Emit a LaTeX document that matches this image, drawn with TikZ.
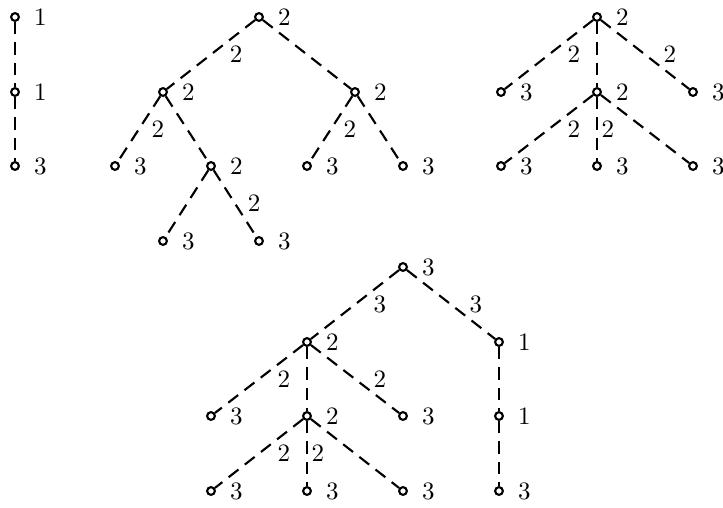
\documentclass[tikz,border=0pt]{standalone}
\begin{document}
\begin{tikzpicture}[x=0.4pt,y=-0.4pt,
  vtx/.style={circle,draw,line width=0.85pt,fill=white,inner sep=0pt,minimum size=3.1pt},
  vl/.style={inner sep=0pt,font=\normalsize},
  edge/.style={line width=0.85pt,dash pattern=on 5pt off 3.2pt},
  el/.style={inner sep=0pt,anchor=center},
  elS/.style={el,xshift=10pt},
  elT/.style={el,xshift=7.6pt},
  elV/.style={el,xshift=4.4pt},
  every label/.style={vl},
  label distance=5.5pt]
\useasboundingbox (0,0) rectangle (723,508);
% Tree A
\node[vtx,label=0:1] (a1) at (15,17) {};
\node[vtx,label=0:1] (a2) at (15,92) {};
\node[vtx,label=0:3] (a3) at (15,166) {};
\draw[edge] (a1) -- (a2);
\draw[edge] (a2) -- (a3);
% Tree B
\node[vtx,label=0:2] (b) at (259,17) {};
\node[vtx,label=0:2] (bl) at (163,92) {};
\node[vtx,label=0:2] (br) at (355,92) {};
\node[vtx,label=0:3] (bll) at (115,166) {};
\node[vtx,label=0:2] (blr) at (211,166) {};
\node[vtx,label=0:3] (brl) at (307,166) {};
\node[vtx,label=0:3] (brr) at (403,166) {};
\node[vtx,label=0:3] (blrl) at (163,241) {};
\node[vtx,label=0:3] (blrr) at (259,241) {};
\draw[edge] (b) -- (bl) node[midway,elS]{2};
\draw[edge] (b) -- (br);
\draw[edge] (bl) -- (bll) node[midway,elT]{2};
\draw[edge] (bl) -- (blr);
\draw[edge] (br) -- (brl) node[midway,elT]{2};
\draw[edge] (br) -- (brr);
\draw[edge] (blr) -- (blrl);
\draw[edge] (blr) -- (blrr) node[midway,elT]{2};
% Tree C
\node[vtx,label=0:2] (c) at (597,17) {};
\node[vtx,label=0:3] (cl) at (501,92) {};
\node[vtx,label=0:2] (cm) at (597,92) {};
\node[vtx,label=0:3] (cr) at (693,92) {};
\node[vtx,label=0:3] (cml) at (501,166) {};
\node[vtx,label=0:3] (cmm) at (597,166) {};
\node[vtx,label=0:3] (cmr) at (693,166) {};
\draw[edge] (c) -- (cl) node[midway,elS]{2};
\draw[edge] (c) -- (cm);
\draw[edge] (c) -- (cr) node[midway,elS]{2};
\draw[edge] (cm) -- (cml) node[midway,elS]{2};
\draw[edge] (cm) -- (cmm) node[midway,elV]{2};
\draw[edge] (cm) -- (cmr);
% Tree D
\node[vtx,label=0:3] (d) at (403,267) {};
\node[vtx,label=0:2] (dl) at (307,342) {};
\node[vtx,label=0:1] (dr) at (499,342) {};
\node[vtx,label=0:3] (dll) at (211,416) {};
\node[vtx,label=0:2] (dlm) at (307,416) {};
\node[vtx,label=0:3] (dlr) at (403,416) {};
\node[vtx,label=0:3] (dlml) at (211,491) {};
\node[vtx,label=0:3] (dlmm) at (307,491) {};
\node[vtx,label=0:3] (dlmr) at (403,491) {};
\node[vtx,label=0:1] (drb) at (499,416) {};
\node[vtx,label=0:3] (drc) at (499,491) {};
\draw[edge] (d) -- (dl) node[midway,elS]{3};
\draw[edge] (d) -- (dr) node[midway,elS]{3};
\draw[edge] (dl) -- (dll) node[midway,elS]{2};
\draw[edge] (dl) -- (dlm);
\draw[edge] (dl) -- (dlr) node[midway,elS]{2};
\draw[edge] (dlm) -- (dlml) node[midway,elS]{2};
\draw[edge] (dlm) -- (dlmm) node[midway,elV]{2};
\draw[edge] (dlm) -- (dlmr);
\draw[edge] (dr) -- (drb);
\draw[edge] (drb) -- (drc);
\end{tikzpicture}
\end{document}
